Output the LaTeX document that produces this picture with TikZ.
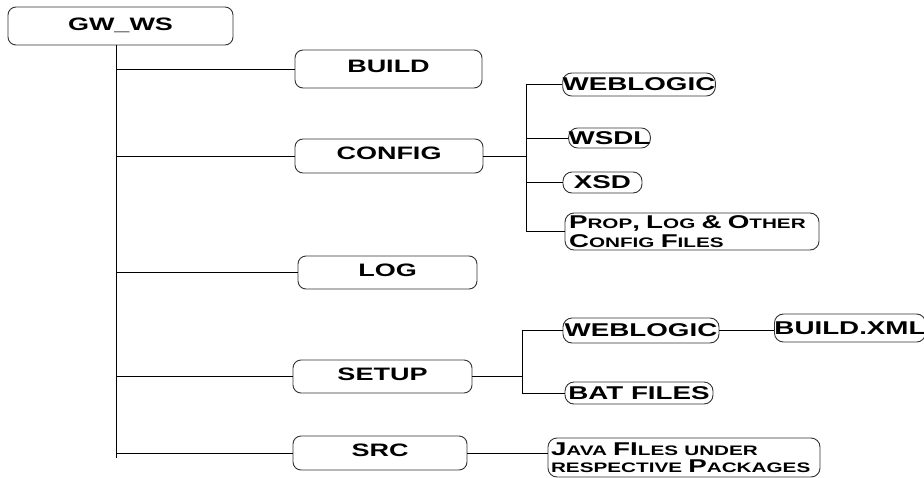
\documentclass[tikz,border=0pt]{standalone}
\usepackage{fontspec}
\newfontfamily\wfont[FakeStretch=1.5]{Liberation Sans}
\newcommand\scx[1]{{\fontsize{13.8}{19}\selectfont #1}}
\begin{document}
\begin{tikzpicture}[x=1pt,y=-1pt,
  mainbox/.style={draw=black!80, line width=0.9pt, rounded corners=8pt, inner sep=0pt,
    font=\wfont\bfseries\fontsize{18}{19}\selectfont},
  leafbox/.style={draw=black!80, line width=0.9pt, rounded corners=9pt, inner sep=0pt,
    font=\wfont\bfseries\fontsize{18.5}{19}\selectfont},
  conn/.style={black, line width=1pt}]
\useasboundingbox (0,0) rectangle (924,477);
% main boxes
\node[mainbox, minimum width=225pt, minimum height=38pt] (gw) at (120.5,26) {\raisebox{4pt}{GW\_WS}};
\node[mainbox, minimum width=187pt, minimum height=38pt] (build) at (388.5,69) {\raisebox{5pt}{BUILD}};
\node[mainbox, minimum width=188pt, minimum height=34pt] (config) at (389,156) {\raisebox{6pt}{CONFIG}};
\node[mainbox, minimum width=179pt, minimum height=33pt] (log) at (387.5,272.5) {\raisebox{5pt}{LOG}};
\node[mainbox, minimum width=179pt, minimum height=33pt] (setup) at (382.5,376.5) {\raisebox{4.5pt}{SETUP}};
\node[mainbox, minimum width=174pt, minimum height=34pt] (src) at (380,453) {\raisebox{5pt}{SRC}};
% leaves
\node[leafbox, minimum width=152pt, minimum height=23pt] (wl1) at (639,84.5) {WEBLOGIC};
\node[leafbox, minimum width=81pt, minimum height=20pt] (wsdl) at (609.5,138) {WSDL};
\node[leafbox, minimum width=79pt, minimum height=21pt] (xsd) at (602.5,182.5) {XSD};
\node[leafbox, minimum width=254pt, minimum height=37pt, align=left, text width=246pt] (prop) at (692,231.5)
  {P\scx{ROP}, L\scx{OG} \& O\scx{THER}\\C\scx{ONFIG} F\scx{ILES}};
\node[leafbox, minimum width=156pt, minimum height=25pt] (wl2) at (641,330.5) {WEBLOGIC};
\node[leafbox, minimum width=146pt, minimum height=28pt] (bxml) at (850,328) {BUILD.XML};
\node[leafbox, minimum width=148pt, minimum height=22pt] (bat) at (639,393) {BAT FILES};
\node[leafbox, minimum width=272pt, minimum height=39pt, align=left, text width=266pt] (java) at (684,457.5)
  {J\scx{AVA} FI\scx{LES UNDER}\\[-2pt]\scx{RESPECTIVE} P\scx{ACKAGES}};
% trunk
\coordinate (trunk) at (116,458);
\draw[conn] (gw.south -| trunk) -- (trunk);
\foreach \n in {build,config,log,setup,src}
  \draw[conn] (trunk |- \n.west) -- (\n.west);
% config branch
\coordinate (cb) at (526,0);
\draw[conn] (config.east) -- (cb |- config.east);
\draw[conn] (cb |- wl1.west) -- (cb |- prop.west);
\foreach \n in {wl1,wsdl,xsd,prop}
  \draw[conn] (cb |- \n.west) -- (\n.west);
% setup branch
\coordinate (sb) at (522,0);
\draw[conn] (setup.east) -- (sb |- setup.east);
\draw[conn] (sb |- wl2.west) -- (sb |- bat.west);
\foreach \n in {wl2,bat}
  \draw[conn] (sb |- \n.west) -- (\n.west);
\draw[conn] (wl2.east) -- (wl2.east -| bxml.west);
\draw[conn] (src.east) -- (src.east -| java.west);
\end{tikzpicture}
\end{document}
